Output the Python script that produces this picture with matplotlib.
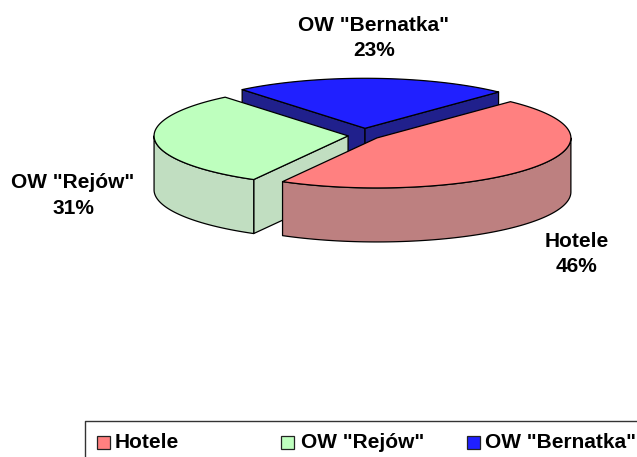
import numpy as np
import matplotlib
matplotlib.use("Agg")
import matplotlib.pyplot as plt
from matplotlib.patches import Polygon, Rectangle

categories = ["Hotele", 'OW "Rejów"', 'OW "Bernatka"']
values = [46, 31, 23]
top_colors = ["#FF8080", "#BEFFBE", "#2020FF"]
side_colors = ["#BD8080", "#C1DEC1", "#20208C"]

W, H = 637, 457
fig = plt.figure(figsize=(W / 100, H / 100), dpi=100)
ax = fig.add_axes([0, 0, 1, 1])
ax.set_xlim(0, W)
ax.set_ylim(H, 0)
ax.axis("off")
plt.rcParams["font.family"] = ["Liberation Sans", "DejaVu Sans"]

CX, CY, RX, RY, DEPTH = 364, 135.5, 194, 50, 54
START = 46.5
EXPLODE = [16, 16, 28]
LW = 0.9

fracs = np.array(values) / sum(values) * 360
ends = START - np.cumsum(fracs)
starts = ends + fracs
mids = (starts + ends) / 2
apex = [(CX + e * np.cos(np.radians(m)), CY - e * RY / RX * np.sin(np.radians(m)))
        for e, m in zip(EXPLODE, mids)]


def rim(c, a0, a1, n=120):
    t = np.radians(np.linspace(a0, a1, n))
    return np.column_stack([c[0] + RX * np.cos(t), c[1] - RY * np.sin(t)])


def shift(p):
    return np.asarray(p) + [0, DEPTH]


def draw(pts, color, z):
    ax.add_patch(Polygon(pts, closed=True, fc=color, ec="black", lw=LW, joinstyle="round", zorder=z))


def wall(c, p, color, z):
    draw(np.array([c, p, shift(p), shift(c)]), color, z)


def outer(c, a0, a1, color, z):
    front = rim(c, a0, a1)
    draw(np.vstack([front, shift(front)[::-1]]), color, z)


# Blue (back): both radial walls, then top
c = apex[2]
r = rim(c, starts[2], ends[2])
wall(c, r[0], side_colors[2], 1)
wall(c, r[-1], side_colors[2], 1)
draw(np.vstack([[c], r]), top_colors[2], 2)

# Green: radial wall towards the viewer, outer wall on the front half, top
c = apex[1]
r = rim(c, starts[1], ends[1])
wall(c, r[0], side_colors[1], 11)
outer(c, -180, starts[1], side_colors[1], 12)
draw(np.vstack([[c], r]), top_colors[1], 13)

# Pink: outer wall on the front half, top
c = apex[0]
r = rim(c, starts[0], ends[0])
outer(c, ends[0], 0, side_colors[0], 21)
draw(np.vstack([[c], r]), top_colors[0], 22)

FS = 15
label_pos = [(577, 254), (73, 195.5), (374, 38)]
for name, v, (x, y) in zip(categories, values, label_pos):
    ax.text(x, y, f"{name}\n{v}%", ha="center", va="center", fontsize=FS, fontweight="bold",
            linespacing=1.4, zorder=50)

# Legend frame, cut by the figure edge
ax.plot([85, 85, W], [H, 421, 421], color="#333333", lw=1, zorder=50, clip_on=False)
swatch_x = [97, 281, 467]
text_x = [115, 301, 485]
for name, col, sx, tx in zip(categories, top_colors, swatch_x, text_x):
    ax.add_patch(Rectangle((sx, 436), 13, 13, fc=col, ec="#222222", lw=0.9, zorder=51))
    ax.text(tx, 442, name, ha="left", va="center", fontsize=FS, fontweight="bold", zorder=51)

fig.savefig("out.png", dpi=100)
